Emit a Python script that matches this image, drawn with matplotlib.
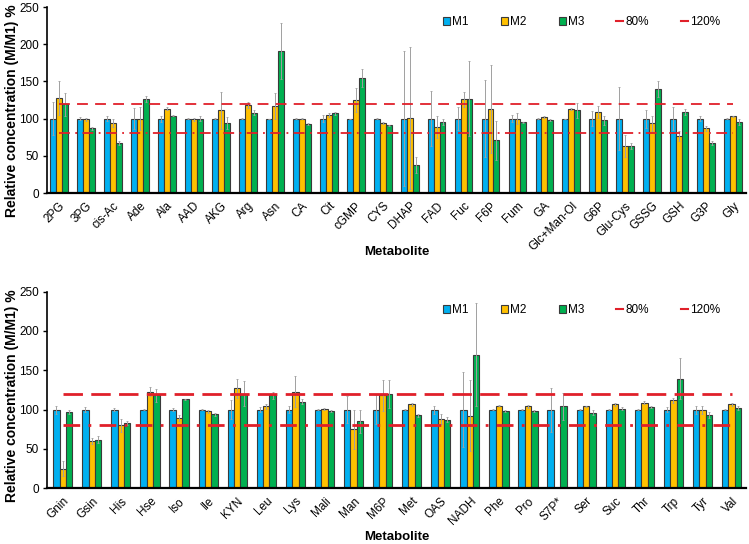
import matplotlib
matplotlib.use('Agg')
import matplotlib.pyplot as plt
import numpy as np
from matplotlib.patches import Patch
from matplotlib.lines import Line2D

plt.rcParams['font.family'] = ['Liberation Sans', 'DejaVu Sans']

# ---- top panel data ----
top_names = ['2PG', '3PG', 'cis-Ac', 'Ade', 'Ala', 'AAD', 'AKG', 'Arg', 'Asn', 'CA', 'Cit', 'cGMP', 'CYS',
             'DHAP', 'FAD', 'Fuc', 'F6P', 'Fum', 'GA', 'Glc+Man-Ol', 'G6P', 'Glu-Cys', 'GSSG', 'GSH', 'G3P', 'Gly']
top_m1 = [100] * 26
top_m1_err = [22, 2, 3, 14, 4, 1, 1, 1, 0, 1, 5, 0, 1, 91, 37, 15, 52, 5, 1, 0, 10, 42, 12, 15, 3, 1]
top_m2 = [128, 99, 94, 100, 113, 99, 111, 118, 117, 100, 105, 125, 94, 101, 89, 126, 113, 100, 102, 113,
          109, 63, 94, 77, 87, 103]
top_m2_err = [23, 2, 5, 15, 2, 2, 25, 4, 17, 1, 3, 16, 1, 95, 15, 10, 59, 7, 1, 1, 8, 15, 10, 7, 3, 1]
top_m3 = [119, 87, 67, 126, 104, 100, 94, 108, 191, 93, 107, 155, 91, 38, 95, 127, 71, 95, 98, 111,
          98, 63, 140, 109, 67, 95]
top_m3_err = [15, 2, 3, 4, 1, 3, 8, 3, 38, 1, 2, 12, 1, 11, 4, 51, 26, 1, 1, 10, 6, 4, 11, 4, 3, 4]

# ---- bottom panel data ----
bot_names = ['Gnin', 'Gsin', 'His', 'Hse', 'Iso', 'Ile', 'KYN', 'Leu', 'Lys', 'Mali', 'Man', 'M6P', 'Met',
             'OAS', 'NADH', 'Phe', 'Pro', 'S7P*', 'Ser', 'Suc', 'Thr', 'Trp', 'Tyr', 'Val']
bot_m1 = [100] * 24
bot_m1_err = [5, 3, 2, 1, 2, 1, 12, 3, 4, 1, 17, 18, 1, 5, 48, 1, 1, 28, 1, 1, 1, 3, 5, 1]
bot_m2 = [25, 60, 80, 123, 89, 98, 127, 104, 123, 101, 75, 118, 107, 88, 92, 105, 104, 0, 104, 107,
          109, 112, 100, 107]
bot_m2_err = [10, 4, 8, 6, 4, 2, 12, 3, 20, 1, 25, 20, 2, 6, 45, 1, 2, 0, 1, 2, 2, 3, 5, 2]
bot_m3 = [97, 62, 83, 118, 113, 94, 120, 118, 110, 98, 85, 120, 93, 87, 170, 98, 98, 104, 96, 101,
          103, 139, 93, 102]
bot_m3_err = [3, 5, 3, 8, 1, 2, 16, 5, 3, 1, 15, 18, 2, 3, 66, 1, 1, 17, 3, 2, 1, 26, 4, 2]

colors = ['#00B0F0', '#FFC000', '#00B050']
series = ['M1', 'M2', 'M3']


def panel(ax, names, vals, errs, xlim, lw_ref, dash120, dash80):
    x = np.arange(len(names))
    w = 0.22
    for i in range(3):
        ax.bar(x + (i - 1) * w, vals[i], w, color=colors[i], edgecolor='#3a3a3a', linewidth=0.8,
               yerr=errs[i], ecolor='#a0a0a0', error_kw=dict(elinewidth=0.7, capsize=1, capthick=0.6),
               zorder=2)
    ax.plot([x[0], x[-1]], [120, 120], color='#E0202A', lw=lw_ref, dashes=dash120, zorder=3)
    ax.plot([x[0], x[-1]], [80, 80], color='#E0202A', lw=lw_ref, dashes=dash80, zorder=3)
    ax.set_xlim(*xlim)
    ax.set_ylim(0, 250)
    ax.set_yticks(range(0, 251, 50))
    ax.set_xticks(x)
    ax.set_xticklabels(names, rotation=45, ha='right', rotation_mode='anchor', fontsize=8.5)
    ax.tick_params(axis='x', length=0, pad=5)
    ax.tick_params(axis='y', direction='out', length=3, width=1, labelsize=8.5, pad=3)
    ax.spines['top'].set_visible(False)
    ax.spines['right'].set_visible(False)
    ax.spines['left'].set_linewidth(1.2)
    ax.spines['bottom'].set_linewidth(1.6)
    ax.set_ylabel('Relative concentration (M/M1) %', fontsize=10, fontweight='bold', va='center')
    ax.set_xlabel('Metabolite', fontsize=9.5, fontweight='bold', va='center')

    handles = [Patch(facecolor=colors[i], edgecolor='#3a3a3a', linewidth=0.8, label=series[i]) for i in range(3)]
    handles += [Line2D([0], [0], color='#E0202A', lw=1.5, label='80%'),
                Line2D([0], [0], color='#E0202A', lw=1.5, label='120%')]
    return handles


fig = plt.figure(figsize=(7.49, 5.44), dpi=100)
ax1 = fig.add_axes([0.0628, 0.6452, 0.9333, 0.3419])
ax2 = fig.add_axes([0.0628, 0.1024, 0.9333, 0.3616])

h = panel(ax1, top_names, [top_m1, top_m2, top_m3], [top_m1_err, top_m2_err, top_m3_err],
          (-0.45, 25.48), 1.3, (6, 4), (6, 3, 1, 3))
ax1.xaxis.set_label_coords(0.5, -0.317)
ax1.yaxis.set_label_coords(-0.05, 0.44)
ax1.legend(handles=h, loc='center', bbox_to_anchor=(0.765, 0.919), ncol=5, frameon=False, fontsize=8.5,
           handlelength=0.6, handleheight=0.6, handletextpad=0.2, columnspacing=2.7)

h = panel(ax2, bot_names, [bot_m1, bot_m2, bot_m3], [bot_m1_err, bot_m2_err, bot_m3_err],
          (-0.54, 23.5), 2.0, (7, 3), (6, 3, 1, 3))
ax2.xaxis.set_label_coords(0.5, -0.248)
ax2.yaxis.set_label_coords(-0.05, 0.47)
ax2.legend(handles=h, loc='center', bbox_to_anchor=(0.765, 0.906), ncol=5, frameon=False, fontsize=8.5,
           handlelength=0.6, handleheight=0.6, handletextpad=0.2, columnspacing=2.7)

fig.savefig('out.png', dpi=100)
